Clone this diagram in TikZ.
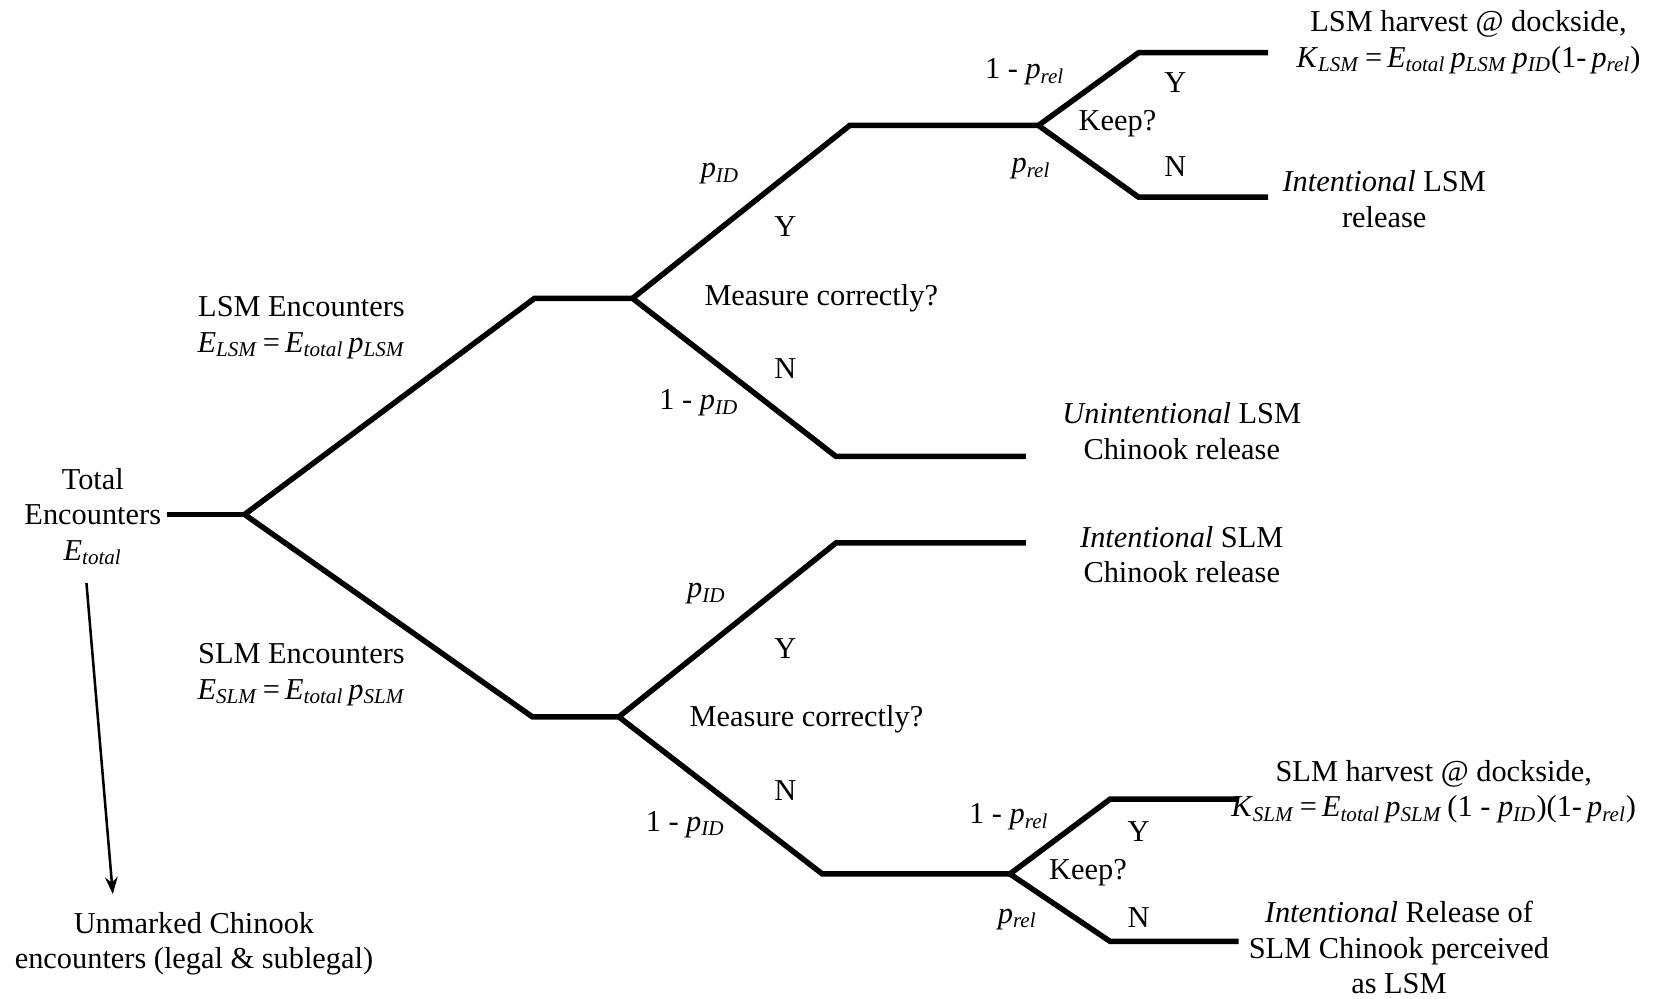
\documentclass[tikz,border=0pt]{standalone}
\usepackage{fontspec}
\setmainfont{Liberation Serif}
\usetikzlibrary{arrows.meta}
\newcommand\vr[2]{\textit{#1}\textsubscript{\textit{#2}}}
\begin{document}
\begin{tikzpicture}[x=0.5pt,y=-0.5pt,
  br/.style={line width=2.6pt,line join=miter},
  lbl/.style={inner sep=0pt,font=\fontsize{14.4}{16.8}\selectfont,align=center},
  arr/.style={line width=1.2pt,-{Stealth[length=8pt,width=6pt]}}]
\useasboundingbox (0,0) rectangle (1568,947);
% branch points
\coordinate (R0) at (158,488);
\coordinate (R) at (232,488);
\coordinate (A) at (507,283);
\coordinate (B) at (600,283);
\coordinate (C) at (806,119);
\coordinate (D) at (985,119);
\coordinate (E) at (1080,50);
\coordinate (F) at (1203,50);
\coordinate (G) at (1080,187);
\coordinate (H) at (1203,187);
\coordinate (I) at (793,433);
\coordinate (J) at (973,433);
\coordinate (K) at (505,680);
\coordinate (L) at (587,680);
\coordinate (M) at (793,515);
\coordinate (N) at (973,515);
\coordinate (O) at (780,829);
\coordinate (P) at (958,829);
\coordinate (Q) at (1053,758);
\coordinate (S) at (1175,758);
\coordinate (T) at (1053,893);
\coordinate (U) at (1175,893);
\coordinate (ars) at (82,553);
\coordinate (are) at (107,848);
% branches
\draw[br] (R0) -- (R);
\draw[br] (R) -- (A) -- (B);
\draw[br] (B) -- (C) -- (D);
\draw[br] (D) -- (E) -- (F);
\draw[br] (D) -- (G) -- (H);
\draw[br] (B) -- (I) -- (J);
\draw[br] (R) -- (K) -- (L);
\draw[br] (L) -- (M) -- (N);
\draw[br] (L) -- (O) -- (P);
\draw[br] (P) -- (Q) -- (S);
\draw[br] (P) -- (T) -- (U);
\draw[arr] (ars) -- (are);
% texts
\node[lbl] (tot) at (88,490) {Total\\Encounters\\\vr{E}{total}};
\node[lbl] (lsme) at (286,311) {LSM Encounters\\\vr{E}{LSM}\,=\,\vr{E}{total}\,\vr{p}{LSM}};
\node[lbl] (slme) at (286,640) {SLM Encounters\\\vr{E}{SLM}\,=\,\vr{E}{total}\,\vr{p}{SLM}};
\node[lbl] (unm) at (184,895) {Unmarked Chinook\\encounters (legal \& sublegal)};
% upper measure
\node[lbl] (pid1) at (683,165) {\vr{p}{ID}};
\node[lbl] (y1) at (745,215) {Y};
\node[lbl] (mc1) at (779,283) {Measure correctly?};
\node[lbl] (n1) at (745,350) {N};
\node[lbl] (npid1) at (663,382) {1 - \vr{p}{ID}};
% lower measure
\node[lbl] (pid2) at (670,563) {\vr{p}{ID}};
\node[lbl] (y2) at (745,615) {Y};
\node[lbl] (mc2) at (765,682) {Measure correctly?};
\node[lbl] (n2) at (745,750) {N};
\node[lbl] (npid2) at (650,782) {1 - \vr{p}{ID}};
% upper keep
\node[lbl] (nrel1) at (972,68) {1 - \vr{p}{rel}};
\node[lbl] (y3) at (1115,78) {Y};
\node[lbl] (kp1) at (1060,117) {Keep?};
\node[lbl] (rel1) at (978,160) {\vr{p}{rel}};
\node[lbl] (n3) at (1115,158) {N};
% lower keep
\node[lbl] (nrel2) at (957,775) {1 - \vr{p}{rel}};
\node[lbl] (y4) at (1080,789) {Y};
\node[lbl] (kp2) at (1032,828) {Keep?};
\node[lbl] (rel2) at (965,872) {\vr{p}{rel}};
\node[lbl] (n4) at (1080,870) {N};
% outcomes
\node[lbl] (o1) at (1393,40) {LSM harvest @ dockside,\\\vr{K}{LSM}\,=\,\vr{E}{total}\,\vr{p}{LSM}\,\vr{p}{ID}(1-\,\vr{p}{rel})};
\node[lbl] (o2) at (1313,189) {\textit{Intentional} LSM\\release};
\node[lbl] (o3) at (1121,409) {\textit{Unintentional} LSM\\Chinook release};
\node[lbl] (o4) at (1121,526) {\textit{Intentional} SLM\\Chinook release};
\node[lbl] (o5) at (1360,751) {SLM harvest @ dockside,\\\vr{K}{SLM}\,=\,\vr{E}{total}\,\vr{p}{SLM}\,(1 - \vr{p}{ID})(1-\,\vr{p}{rel})};
\node[lbl] (o6) at (1327,899) {\textit{Intentional} Release of\\SLM Chinook perceived\\as LSM};
\end{tikzpicture}
\end{document}
